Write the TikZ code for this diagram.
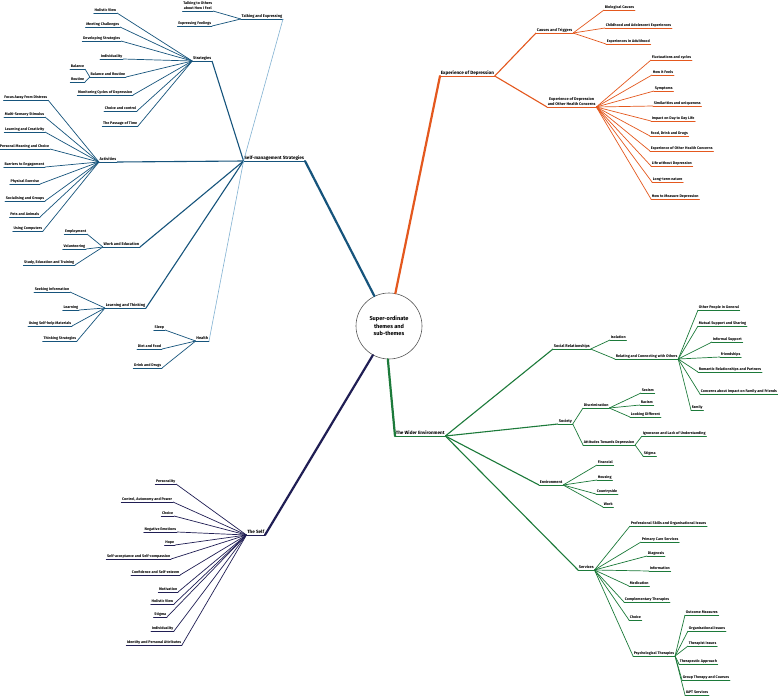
\documentclass[tikz,border=0pt]{standalone}
\usepackage{fontspec}
\setmainfont{Fira Sans}
\newcommand\fLeaf{\fontsize{3.7}{5}\selectfont\bfseries}
\newcommand\fMid{\fontsize{3.9}{5}\selectfont\bfseries}
\newcommand\fMain{\fontsize{4.6}{5.2}\selectfont\bfseries}
\definecolor{cBlue}{RGB}{22,84,124}
\definecolor{cLight}{RGB}{130,178,210}
\definecolor{cNavy}{RGB}{32,30,84}
\definecolor{cOrange}{RGB}{228,88,30}
\definecolor{cGreen}{RGB}{28,122,58}
\begin{document}
\begin{tikzpicture}[x=1pt,y=-1pt,
  lab/.style={inner xsep=0.6pt, inner ysep=0.8pt, text height=2.8pt, text depth=0.7pt, font=\fLeaf, text=black},
  ul/.style={lab, append after command={(\tikzlastnode.south west) edge[draw=#1, line width=0.9pt, line cap=round] (\tikzlastnode.south east)}},
  L/.style={ul=#1, anchor=south east},
  R/.style={ul=#1, anchor=south west},
  midlab/.style={font=\fMid},
  mainlab/.style={font=\fMain, text height=3.3pt, text depth=0.9pt},
  twoline/.style={align=center, text height=7.8pt},
  mainc/.style={draw=#1, line width=2.2pt, line cap=round},
  subc/.style={draw=#1, line width=1.1pt},
  leafc/.style={draw=#1, line width=0.7pt},
  thinc/.style={draw=cLight, line width=0.6pt},
  hub/.style={circle, draw=black!65, line width=0.6pt, fill=white, minimum size=66pt, inner sep=0pt, align=center, font=\fontsize{5.6}{7.4}\selectfont\bfseries}
]
\useasboundingbox (0,0) rectangle (778,698);
\fill[white] (0,0) rectangle (778,698);

\node[hub] (cen) at (389,326) {Super-ordinate\\themes and\\sub-themes};

% ---------------- Self-management Strategies ----------------
\node[L=cBlue, mainlab] (sms) at (305,161) {Self-management Strategies};
\node[L=cBlue, midlab] (strat) at (212,61) {Strategies};
\node[L=cBlue, midlab] (talk) at (283,19) {Talking and Expressing};
\node[L=cBlue, midlab] (act) at (117,162) {Activities};
\node[L=cBlue, midlab] (work) at (140,247) {Work and Education};
\node[L=cBlue, midlab] (learn) at (146,308) {Learning and Thinking};
\node[L=cBlue, midlab] (health) at (209,341) {Health};

\node[L=cBlue, twoline] (t1) at (213,11) {Talking to Others\\about How I Feel};
\node[L=cBlue] (t2) at (212,26) {Expressing Feelings};

\node[L=cBlue] (s1) at (117,13) {Holistic View};
\node[L=cBlue] (s2) at (120,27) {Meeting Challenges};
\node[L=cBlue] (s3) at (121,41) {Developing Strategies};
\node[L=cBlue] (s4) at (123,59) {Individuality};
\node[L=cBlue] (s5) at (126,77) {Balance and Routine};
\node[L=cBlue] (s5a) at (85,69) {Balance};
\node[L=cBlue] (s5b) at (85,82) {Routine};
\node[L=cBlue] (s6) at (133,95) {Monitoring Cycles of Depression};
\node[L=cBlue] (s7) at (137,111) {Choice and control};
\node[L=cBlue] (s8) at (138,126) {The Passage of Time};

\node[L=cBlue] (a1) at (48,100) {Focus Away From Distress};
\node[L=cBlue] (a2) at (45,117) {Multi-Sensory Stimulus};
\node[L=cBlue] (a3) at (45,132) {Learning and Creativity};
\node[L=cBlue] (a4) at (50,149) {Personal Meaning and Choice};
\node[L=cBlue] (a5) at (45,167) {Barriers to Engagement};
\node[L=cBlue] (a6) at (40,184) {Physical Exercise};
\node[L=cBlue] (a7) at (45,201) {Socialising and Groups};
\node[L=cBlue] (a8) at (40,217) {Pets and Animals};
\node[L=cBlue] (a9) at (43,231) {Using Computers};

\node[L=cBlue] (w1) at (87,234) {Employment};
\node[L=cBlue] (w2) at (86,249) {Volunteering};
\node[L=cBlue] (w3) at (75,265) {Study, Education and Training};

\node[L=cBlue] (l1) at (70,292) {Seeking Information};
\node[L=cBlue] (l2) at (79,310) {Learning};
\node[L=cBlue] (l3) at (72,326) {Using Self-help Materials};
\node[L=cBlue] (l4) at (77,341) {Thinking Strategies};

\node[L=cBlue] (h1) at (165,330) {Sleep};
\node[L=cBlue] (h2) at (162,349) {Diet and Food};
\node[L=cBlue] (h3) at (162,368) {Drink and Drugs};

\draw[mainc=cBlue] (cen.116) -- (sms.south east);
\draw[subc=cBlue] (sms.south west) -- (strat.south east);
\draw[thinc] (sms.south west) -- (talk.south east);
\draw[subc=cBlue] (sms.south west) -- (act.south east);
\draw[subc=cBlue] (sms.south west) -- (work.south east);
\draw[subc=cBlue] (sms.south west) -- (learn.south east);
\draw[thinc] (sms.south west) -- (health.south east);
\foreach \n in {t1,t2} \draw[leafc=cBlue] (talk.south west) -- (\n.south east);
\foreach \n in {s1,s2,s3,s4,s5,s6,s7,s8} \draw[leafc=cBlue] (strat.south west) -- (\n.south east);
\foreach \n in {s5a,s5b} \draw[leafc=cBlue] (s5.south west) -- (\n.south east);
\foreach \n in {a1,a2,a3,a4,a5,a6,a7,a8,a9} \draw[leafc=cBlue] (act.south west) -- (\n.south east);
\foreach \n in {w1,w2,w3} \draw[leafc=cBlue] (work.south west) -- (\n.south east);
\foreach \n in {l1,l2,l3,l4} \draw[leafc=cBlue] (learn.south west) -- (\n.south east);
\foreach \n in {h1,h2,h3} \draw[leafc=cBlue] (health.south west) -- (\n.south east);

% ---------------- The Self ----------------
\node[L=cNavy, mainlab] (self) at (265,535) {The Self};
\node[L=cNavy] (f1) at (176,484) {Personality};
\node[L=cNavy] (f2) at (173,502) {Control, Autonomy and Power};
\node[L=cNavy] (f3) at (174,516) {Choice};
\node[L=cNavy] (f4) at (177,532) {Negative Emotions};
\node[L=cNavy] (f5) at (175,545) {Hope};
\node[L=cNavy] (f6) at (171,559) {Self-acceptance and Self-compassion};
\node[L=cNavy] (f7) at (180,575) {Confidence and Self-esteem};
\node[L=cNavy] (f8) at (178,592) {Motivation};
\node[L=cNavy] (f9) at (174,604) {Holistic View};
\node[L=cNavy] (f10) at (167,617) {Stigma};
\node[L=cNavy] (f11) at (174,631) {Individuality};
\node[L=cNavy] (f12) at (182,645) {Identity and Personal Attributes};
\draw[mainc=cNavy] (cen.241) -- (self.south east);
\foreach \n in {f1,f2,f3,f4,f5,f6,f7,f8,f9,f10,f11,f12} \draw[leafc=cNavy] (self.south west) -- (\n.south east);

% ---------------- Experience of Depression ----------------
\node[R=cOrange, mainlab] (exp) at (440,76) {Experience of Depression};
\node[R=cOrange, midlab] (cau) at (536,33) {Causes and Triggers};
\node[R=cOrange, midlab, twoline] (eoh) at (547,107) {Experience of Depression\\and Other Health Concerns};
\node[R=cOrange] (c1) at (604,10) {Biological Causes};
\node[R=cOrange] (c2) at (605,28) {Childhood and Adolescent Experiences};
\node[R=cOrange] (c3) at (606,44) {Experiences in Adulthood};
\node[R=cOrange] (e1) at (651,60) {Fluctuations and cycles};
\node[R=cOrange] (e2) at (652,75) {How it Feels};
\node[R=cOrange] (e3) at (654,91) {Symptoms};
\node[R=cOrange] (e4) at (653,106) {Similarities and uniqueness};
\node[R=cOrange] (e5) at (651,121) {Impact on Day to Day Life};
\node[R=cOrange] (e6) at (650,136) {Food, Drink and Drugs};
\node[R=cOrange] (e7) at (650,151) {Experience of Other Health Concerns};
\node[R=cOrange] (e8) at (651,166) {Life without Depression};
\node[R=cOrange] (e9) at (652,182) {Long-term nature};
\node[R=cOrange] (e10) at (651,199) {How to Measure Depression};
\draw[mainc=cOrange] (cen.79) -- (exp.south west);
\draw[subc=cOrange] (exp.south east) -- (cau.south west);
\draw[subc=cOrange] (exp.south east) -- (eoh.south west);
\foreach \n in {c1,c2,c3} \draw[leafc=cOrange] (cau.south east) -- (\n.south west);
\foreach \n in {e1,e2,e3,e4,e5,e6,e7,e8,e9,e10} \draw[leafc=cOrange] (eoh.south east) -- (\n.south west);

% ---------------- The Wider Environment ----------------
\node[R=cGreen, mainlab] (wide) at (395,436) {The Wider Environment};
\node[R=cGreen, midlab] (sr) at (553,349) {Social Relationships};
\node[R=cGreen, midlab] (soc) at (558,424) {Society};
\node[R=cGreen, midlab] (env) at (539,485) {Environment};
\node[R=cGreen, midlab] (ser) at (578,570) {Services};

\node[R=cGreen] (iso) at (610,340) {Isolation};
\node[R=cGreen] (rel) at (615,359) {Relating and Connecting with Others};
\node[R=cGreen] (r1) at (698,310) {Other People in General};
\node[R=cGreen] (r2) at (698,326) {Mutual Support and Sharing};
\node[R=cGreen] (r3) at (712,342) {Informal Support};
\node[R=cGreen] (r4) at (720,357) {Friendships};
\node[R=cGreen] (r5) at (698,372) {Romantic Relationships and Partners};
\node[R=cGreen] (r6) at (700,394) {Concerns about Impact on Family and Friends};
\node[R=cGreen] (r7) at (691,410) {Family};

\node[R=cGreen] (dis) at (583,408) {Discrimination};
\node[R=cGreen] (d1) at (641,393) {Sexism};
\node[R=cGreen] (d2) at (640,405) {Racism};
\node[R=cGreen] (d3) at (630,417) {Looking Different};
\node[R=cGreen] (att) at (583,445) {Attitudes Towards Depression};
\node[R=cGreen] (at1) at (642,436) {Ignorance and Lack of Understanding};
\node[R=cGreen] (at2) at (643,456) {Stigma};

\node[R=cGreen] (v1) at (597,465) {Financial};
\node[R=cGreen] (v2) at (597,480) {Housing};
\node[R=cGreen] (v3) at (596,494) {Countryside};
\node[R=cGreen] (v4) at (603,507) {Work};

\node[R=cGreen] (sv1) at (630,526) {Professional Skills and Organisational Issues};
\node[R=cGreen] (sv2) at (641,542) {Primary Care Services};
\node[R=cGreen] (sv3) at (647,556) {Diagnosis};
\node[R=cGreen] (sv4) at (649,571) {Information};
\node[R=cGreen] (sv5) at (629,586) {Medication};
\node[R=cGreen] (sv6) at (624,602) {Complementary Therapies};
\node[R=cGreen] (sv7) at (629,620) {Choice};
\node[R=cGreen] (psy) at (633,656) {Psychological Therapies};
\node[R=cGreen] (p1) at (685,615) {Outcome Measures};
\node[R=cGreen] (p2) at (688,631) {Organisational Issues};
\node[R=cGreen] (p3) at (688,646) {Therapist Issues};
\node[R=cGreen] (p4) at (679,664) {Therapeutic Approach};
\node[R=cGreen] (p5) at (682,680) {Group Therapy and Courses};
\node[R=cGreen] (p6) at (685,695) {IAPT Services};

\draw[mainc=cGreen] (cen.268) -- (wide.south west);
\foreach \n in {sr,soc,env,ser} \draw[subc=cGreen] (wide.south east) -- (\n.south west);
\foreach \n in {iso,rel} \draw[leafc=cGreen] (sr.south east) -- (\n.south west);
\foreach \n in {r1,r2,r3,r4,r5,r6,r7} \draw[leafc=cGreen] (rel.south east) -- (\n.south west);
\foreach \n in {dis,att} \draw[leafc=cGreen] (soc.south east) -- (\n.south west);
\foreach \n in {d1,d2,d3} \draw[leafc=cGreen] (dis.south east) -- (\n.south west);
\foreach \n in {at1,at2} \draw[leafc=cGreen] (att.south east) -- (\n.south west);
\foreach \n in {v1,v2,v3,v4} \draw[leafc=cGreen] (env.south east) -- (\n.south west);
\foreach \n in {sv1,sv2,sv3,sv4,sv5,sv6,sv7,psy} \draw[leafc=cGreen] (ser.south east) -- (\n.south west);
\foreach \n in {p1,p2,p3,p4,p5,p6} \draw[leafc=cGreen] (psy.south east) -- (\n.south west);
\end{tikzpicture}
\end{document}
